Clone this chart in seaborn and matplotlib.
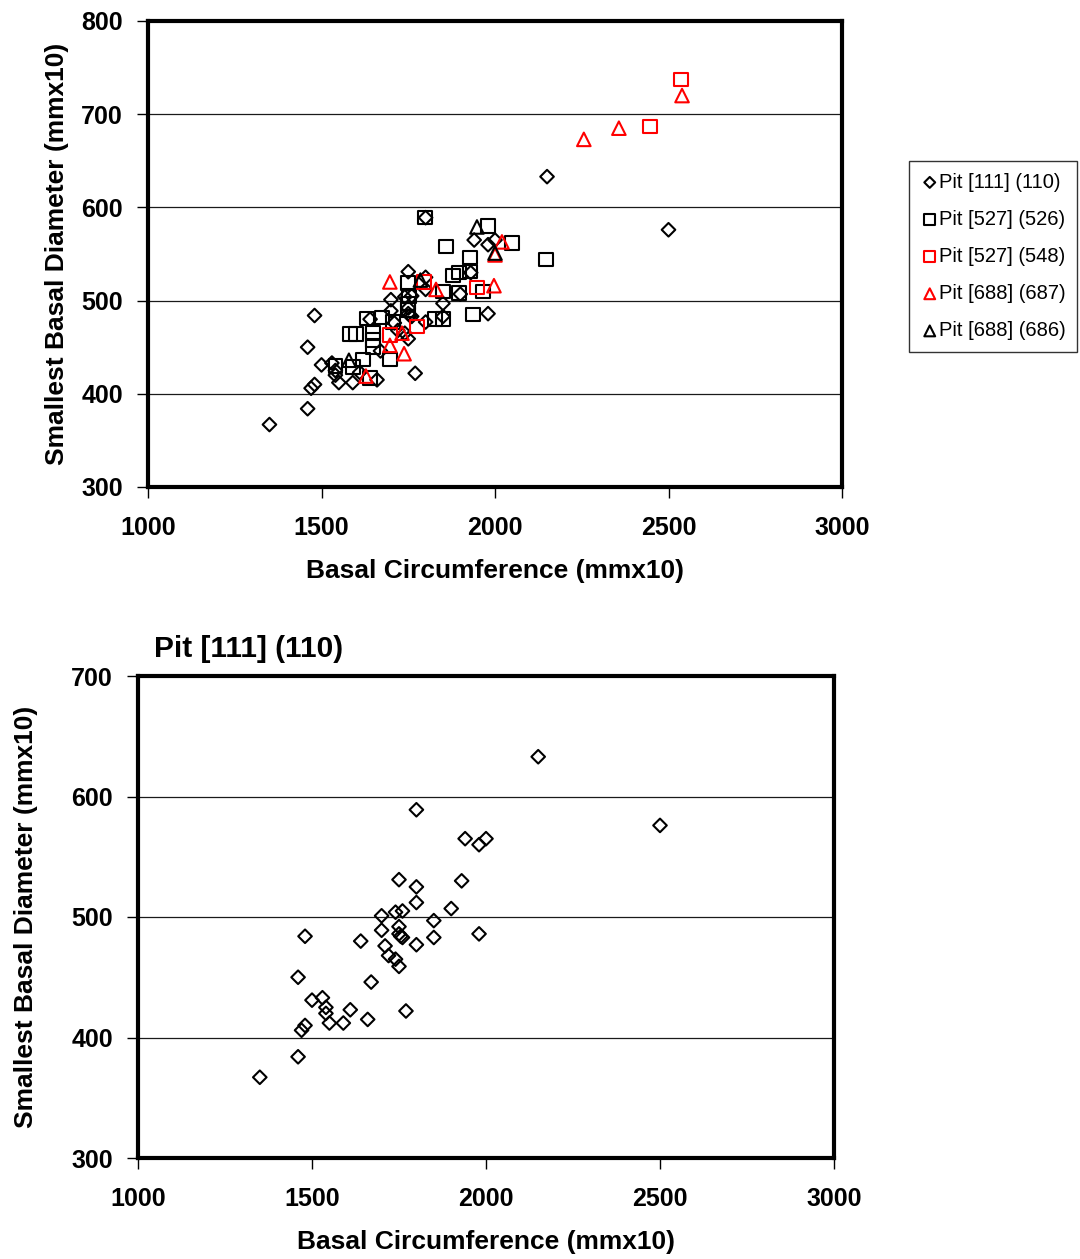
import matplotlib
matplotlib.use("Agg")
import matplotlib.pyplot as plt
import seaborn as sns
import pandas as pd

# Pit [111] (110) - diamonds
pit111_x = [1350, 2150, 2500, 1800, 1940, 2000, 1980, 1750, 1930, 1800, 1900, 1800,
            1700, 1760, 1740, 1850, 1700, 1750, 1750, 1755, 1760, 1480, 1850, 1980,
            1640, 1710, 1800, 1720, 1740, 1750, 1670, 1460, 1500, 1530, 1540, 1540,
            1550, 1480, 1470, 1590, 1610, 1660, 1770, 1460]
pit111_y = [367, 633, 576, 589, 565, 565, 560, 531, 530, 525, 507, 512,
            501, 505, 504, 497, 489, 492, 486, 484, 483, 484, 483, 486,
            480, 476, 477, 468, 465, 459, 446, 450, 431, 433, 425, 420,
            412, 410, 406, 412, 423, 415, 422, 384]

# Pit [527] (526) - black squares
pit526_x = [1798, 1980, 1859, 2049, 2147, 1928, 1879, 1896, 1928, 1850, 1896, 1965,
            1937, 1850, 1827, 1749, 1631, 1674, 1706, 1582, 1599, 1648, 1648, 1648,
            1697, 1620, 1591, 1540, 1640, 1750, 1752, 1750]
pit526_y = [589, 580, 558, 562, 544, 546, 527, 530, 531, 510, 508, 510,
            485, 480, 480, 519, 481, 482, 477, 464, 464, 466, 458, 450,
            437, 437, 429, 430, 417, 497, 505, 490]

# Pit [527] (548) - red squares
pit548_x = [2536, 2447, 1795, 1948, 1775, 1697]
pit548_y = [737, 687, 520, 514, 472, 463]

# Pit [688] (687) - red triangles
pit687_x = [2256, 2357, 2539, 2020, 2000, 1997, 1697, 1830, 1738, 1697, 1732, 1628]
pit687_y = [673, 685, 720, 563, 549, 516, 520, 512, 443, 452, 465, 419]

# Pit [688] (686) - black triangles
pit686_x = [1948, 2000, 1785, 1579]
pit686_y = [579, 551, 522, 436]

labels = ["Pit [111] (110)", "Pit [527] (526)", "Pit [527] (548)",
          "Pit [688] (687)", "Pit [688] (686)"]
xs = [pit111_x, pit526_x, pit548_x, pit687_x, pit686_x]
ys = [pit111_y, pit526_y, pit548_y, pit687_y, pit686_y]
markers = ["D", "s", "s", "^", "^"]
colors = ["black", "black", "red", "red", "black"]
sizes = [48, 95, 95, 95, 95]

sns.set_style("white")
plt.rcParams['font.family'] = ['Liberation Sans', 'DejaVu Sans']
plt.rcParams['font.weight'] = 'bold'
plt.rcParams['axes.labelweight'] = 'bold'
plt.rcParams['text.color'] = 'black'
plt.rcParams['axes.labelcolor'] = 'black'
plt.rcParams['xtick.color'] = 'black'
plt.rcParams['ytick.color'] = 'black'

W, H = 1080, 1259
fig = plt.figure(figsize=(W / 100, H / 100), dpi=100)
ax1 = fig.add_axes([148 / W, 1 - 487 / H, 694 / W, 466 / H])
ax2 = fig.add_axes([138 / W, 1 - 1158 / H, 696 / W, 482 / H])


def style_axes(ax, ymax, ylabelpad):
    ax.set_xlim(1000, 3000)
    ax.set_ylim(300, ymax)
    ax.set_xticks(range(1000, 3001, 500))
    ax.set_yticks(range(300, ymax + 1, 100))
    ax.yaxis.grid(True, color="#1a1a1a", linewidth=0.9)
    ax.xaxis.grid(False)
    ax.set_axisbelow(True)
    for sp in ax.spines.values():
        sp.set_linewidth(3)
        sp.set_color("black")
    ax.tick_params(direction="out", length=8, width=1, labelsize=18,
                   colors="black", left=True, bottom=True)
    ax.tick_params(axis="x", pad=13)
    ax.tick_params(axis="y", pad=10)
    ax.set_xlabel("Basal Circumference (mmx10)", fontsize=19, labelpad=13.5)
    ax.set_ylabel("Smallest Basal Diameter (mmx10)", fontsize=19, labelpad=ylabelpad)


# top chart: all pits
for x, y, m, c, s, lab in zip(xs, ys, markers, colors, sizes, labels):
    df = pd.DataFrame({"x": x, "y": y})
    sns.scatterplot(data=df, x="x", y="y", marker=m, s=s, facecolor="none",
                    edgecolor=c, linewidth=1.5, ax=ax1, label=lab, zorder=3)
style_axes(ax1, 800, 9)

leg = ax1.legend(loc="upper left", bbox_to_anchor=(909 / W, 1 - 161 / H),
                 bbox_transform=fig.transFigure, frameon=True, fancybox=False,
                 prop={"size": 14.5, "weight": "normal"}, markerscale=0.8,
                 handletextpad=0.0, handlelength=0.9, labelspacing=0.9,
                 borderpad=0.58, borderaxespad=0)
leg.get_frame().set_edgecolor("black")
leg.get_frame().set_linewidth(1.0)
for t in leg.get_texts():
    t.set_color("black")

# bottom chart: Pit [111] (110)
df111 = pd.DataFrame({"x": pit111_x, "y": pit111_y})
sns.scatterplot(data=df111, x="x", y="y", marker="D", s=48, facecolor="none",
                edgecolor="black", linewidth=1.5, ax=ax2, legend=False, zorder=3)
style_axes(ax2, 700, 24)
fig.text(154 / W, 1 - 649 / H, "Pit [111] (110)", fontsize=21.5,
         fontweight="bold", ha="left", va="center", color="black")

fig.savefig("out.png", dpi=100)
